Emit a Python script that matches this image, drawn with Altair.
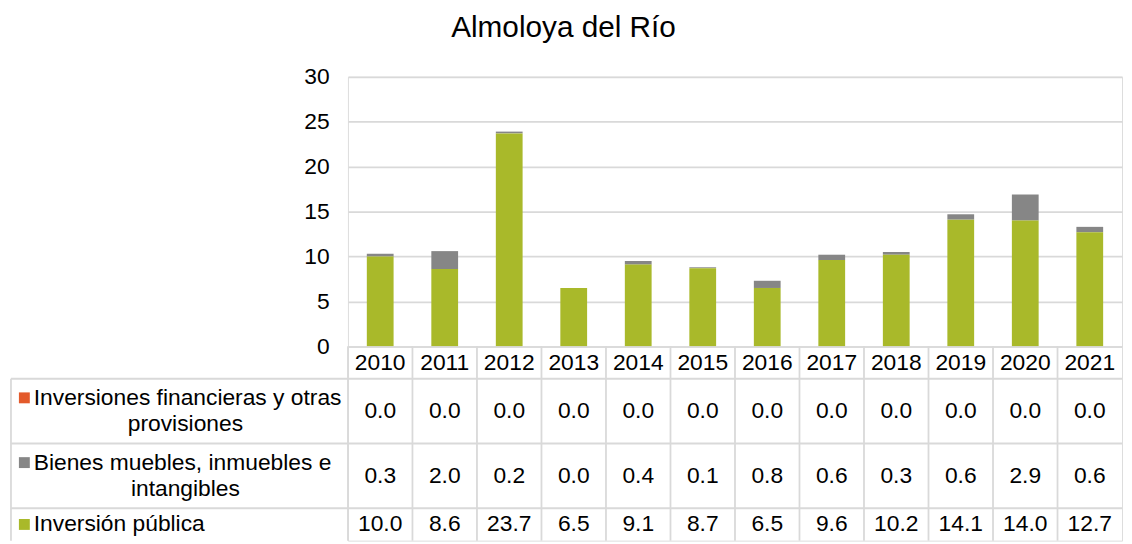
import altair as alt
import pandas as pd

# ---------------- data ----------------
title_text = "Almoloya del Río"
years = ["2010", "2011", "2012", "2013", "2014", "2015", "2016", "2017", "2018", "2019", "2020", "2021"]
series = [
    "Inversiones financieras y otras provisiones",
    "Bienes muebles, inmuebles e intangibles",
    "Inversión pública",
]
label_lines = [
    ["Inversiones financieras y otras", "provisiones"],
    ["Bienes muebles, inmuebles e", "intangibles"],
    ["Inversión pública"],
]
inv_financieras = [0.0, 0.0, 0.0, 0.0, 0.0, 0.0, 0.0, 0.0, 0.0, 0.0, 0.0, 0.0]
bienes_muebles = [0.3, 2.0, 0.2, 0.0, 0.4, 0.1, 0.8, 0.6, 0.3, 0.6, 2.9, 0.6]
inv_publica = [10.0, 8.6, 23.7, 6.5, 9.1, 8.7, 6.5, 9.6, 10.2, 14.1, 14.0, 12.7]
colors = ["#E35A2B", "#868686", "#A9B92A"]
y_ticks = [0, 5, 10, 15, 20, 25, 30]

# ---------------- style ----------------
FONT = "Liberation Sans"
GRID = "#D9D9D9"
GW = 1.8
PLOT_W = 781
BAR_H = 272
LABEL_W = 340
TXT = 23

values_by_series = [inv_financieras, bienes_muebles, inv_publica]
stack_order = {series[0]: 2, series[1]: 1, series[2]: 0}

rows = []
for s, vals in zip(series, values_by_series):
    for y, v in zip(years, vals):
        rows.append({"year": y, "serie": s, "value": v, "stack": stack_order[s]})
df = pd.DataFrame(rows)

color_scale = alt.Scale(domain=series, range=colors)

# ---------------- bars ----------------
bars = alt.Chart(df).mark_bar().encode(
    x=alt.X("year:N", sort=years,
            scale=alt.Scale(paddingInner=0.585, paddingOuter=0.2925),
            axis=alt.Axis(title=None, labels=False, ticks=False, grid=False,
                          domain=True, domainColor=GRID, domainWidth=GW)),
    y=alt.Y("value:Q", stack="zero",
            scale=alt.Scale(domain=[0, 30], nice=False),
            axis=alt.Axis(title=None, values=y_ticks, grid=True, gridColor=GRID,
                          gridWidth=GW, domain=False, ticks=False, labelPadding=19,
                          labelFontSize=TXT, labelColor="#000000", labelFont=FONT)),
    color=alt.Color("serie:N", scale=color_scale, legend=None),
    order=alt.Order("stack:Q"),
).properties(
    width=PLOT_W, height=BAR_H,
    title=alt.TitleParams(title_text, fontSize=30, font=FONT, fontWeight="normal",
                          color="#000000", anchor="middle", dx=-173, offset=23),
)

# ---------------- table ----------------
# row layout in "line units": header = 1 line, each row = number of label lines
n_lines = [len(l) for l in label_lines]
starts = [1]
for n in n_lines[:-1]:
    starts.append(starts[-1] + n)
total_units = starts[-1] + n_lines[-1]
centers = [s + n / 2 for s, n in zip(starts, n_lines)]
LINE_STEP = 0.82

val_rows = []
for s, vals, c in zip(series, values_by_series, centers):
    for y, v in zip(years, vals):
        val_rows.append({"year": y, "serie": s, "value": v, "pos": c})
val_df = pd.DataFrame(val_rows)

lab_rows = []
for s, lines, c in zip(series, label_lines, centers):
    n = len(lines)
    for i, t in enumerate(lines):
        lab_rows.append({"serie": s, "text": t, "line": i,
                         "pos": c + (i - (n - 1) / 2) * LINE_STEP})
lab_df = pd.DataFrame(lab_rows)

year_df = pd.DataFrame({"year": years})
bound_df = pd.DataFrame({"b": starts})

xs = alt.Scale(domain=years, paddingInner=0, paddingOuter=0)
ys = alt.Scale(domain=[0, total_units], reverse=True, nice=False, zero=False)

def X(**kw):
    return alt.X("year:N", sort=years, scale=xs, axis=None, **kw)

vlines = alt.Chart(year_df).mark_rule(color=GRID, strokeWidth=GW).encode(
    x=X(bandPosition=0),
    y=alt.Y(datum=0, scale=ys, axis=None),
    y2=alt.datum(total_units),
)
left_border = alt.Chart(bound_df.head(1)).mark_rule(color=GRID, strokeWidth=GW).encode(
    x=alt.value(-LABEL_W),
    y=alt.Y("b:Q", scale=ys, axis=None),
    y2=alt.datum(total_units),
)
hlines = alt.Chart(bound_df).mark_rule(color=GRID, strokeWidth=GW).encode(
    x=alt.value(-LABEL_W),
    x2=alt.value(PLOT_W),
    y=alt.Y("b:Q", scale=ys, axis=None),
)
header = alt.Chart(year_df).mark_text(fontSize=TXT, font=FONT, color="#000000", baseline="middle").encode(
    x=X(),
    y=alt.Y(datum=0.5, scale=ys, axis=None),
    text="year:N",
)
vals = alt.Chart(val_df).mark_text(fontSize=TXT, font=FONT, color="#000000", baseline="middle").encode(
    x=X(),
    y=alt.Y("pos:Q", scale=ys, axis=None),
    text=alt.Text("value:Q", format=".1f"),
)
first_lines = alt.Chart(lab_df[lab_df["line"] == 0]).mark_text(
    fontSize=TXT, font=FONT, color="#000000", baseline="middle", align="left"
).encode(
    x=alt.value(-LABEL_W + 23),
    y=alt.Y("pos:Q", scale=ys, axis=None),
    text="text:N",
)
other_lines = alt.Chart(lab_df[lab_df["line"] > 0]).mark_text(
    fontSize=TXT, font=FONT, color="#000000", baseline="middle", align="center"
).encode(
    x=alt.value(-LABEL_W + 176),
    y=alt.Y("pos:Q", scale=ys, axis=None),
    text="text:N",
)
keys = alt.Chart(lab_df[lab_df["line"] == 0]).mark_square(size=121, opacity=1, filled=True).encode(
    x=alt.value(-LABEL_W + 13.5),
    y=alt.Y("pos:Q", scale=ys, axis=None),
    color=alt.Color("serie:N", scale=color_scale, legend=None),
)

table = alt.layer(vlines, left_border, hlines, header, vals, first_lines, other_lines, keys).properties(
    width=PLOT_W, height=196
)

chart = alt.vconcat(bars, table, spacing=0, bounds="flush").resolve_scale(
    x="independent", y="independent", color="shared"
).properties(
    padding={"left": 1, "top": 2, "right": 0, "bottom": 0}
).configure_view(stroke=None).configure(font=FONT)

chart.save("out.html", embed_options={"renderer": "svg", "actions": False})
